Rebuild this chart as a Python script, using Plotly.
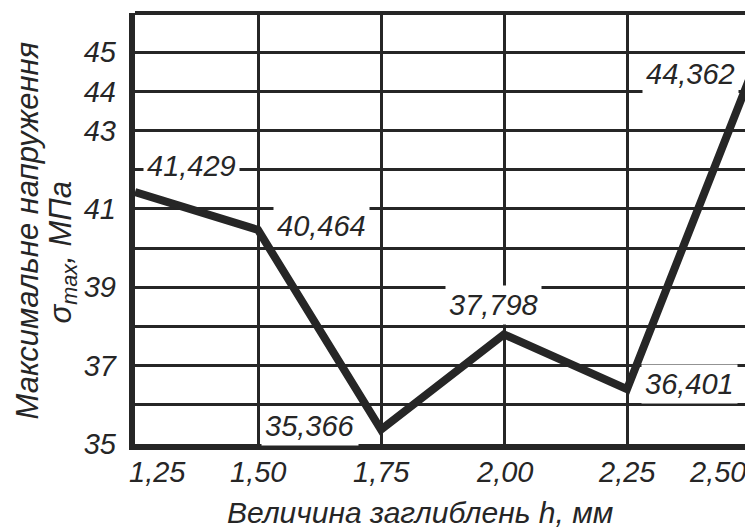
import plotly.graph_objects as go

depth_mm = [1.25, 1.50, 1.75, 2.00, 2.25, 2.50]
stress_mpa = [41.429, 40.464, 35.366, 37.798, 36.401, 44.362]

y_tick_vals = [35, 37, 39, 41, 43, 44, 45]
x_tick_vals = [1.25, 1.50, 1.75, 2.00, 2.25, 2.50]

x_title = "Величина заглиблень h, мм"
y_title_1 = "Максимальне напруження"
y_title_2 = "σ<sub>max</sub>, МПа"

INK = "#262626"
FONT = "Liberation Sans"
FS = 29

# the page body has an 8px margin; the figure is sized to fit the window with it
W, H = 745, 520

# data label placement: (xanchor, yanchor, xshift, yshift)
label_pos = [
    ("left", "middle", 8, 26),
    ("left", "middle", 15, 4),
    ("right", "middle", -22, 4),
    ("center", "middle", -11, 29),
    ("left", "middle", 14, 5),
    ("right", "middle", -11, 3),
]
# x tick label placement: (xanchor, xshift)
xtick_pos = [("left", -8), ("center", 0), ("center", 0), ("center", 0), ("center", 0), ("right", -2)]

fig = go.Figure()
fig.add_trace(go.Scatter(
    x=depth_mm, y=stress_mpa, mode="lines",
    line=dict(color=INK, width=8),
    cliponaxis=False, hoverinfo="skip", showlegend=False,
))

for xv, yv, (xa, ya, dx, dy) in zip(depth_mm, stress_mpa, label_pos):
    fig.add_annotation(
        x=xv, y=yv, xref="x", yref="y",
        text=f"{yv:.3f}".replace(".", ","),
        showarrow=False, xanchor=xa, yanchor=ya, xshift=dx, yshift=dy,
        bgcolor="white", borderpad=3,
        font=dict(family=FONT, size=FS, color=INK, style="italic"),
    )

for xv, (xa, dx) in zip(x_tick_vals, xtick_pos):
    fig.add_annotation(
        x=xv, y=0, xref="x", yref="paper",
        text=f"{xv:.2f}".replace(".", ","),
        showarrow=False, xanchor=xa, yanchor="middle", xshift=dx, yshift=-28,
        font=dict(family=FONT, size=FS, color=INK, style="italic"),
    )

fig.add_annotation(
    x=0.463, y=0, xref="paper", yref="paper", yshift=-68,
    text=x_title, showarrow=False, xanchor="center", yanchor="middle",
    font=dict(family=FONT, size=30, color=INK, style="italic"),
)
fig.add_annotation(
    x=0, y=0.5, xref="paper", yref="paper", xshift=-108, yshift=-2,
    text=y_title_1, showarrow=False, xanchor="center", yanchor="middle",
    textangle=-90,
    font=dict(family=FONT, size=31, color=INK, style="italic"),
)
fig.add_annotation(
    x=0, y=0.5, xref="paper", yref="paper", xshift=-73, yshift=-24,
    text=y_title_2, showarrow=False, xanchor="center", yanchor="middle",
    textangle=-90,
    font=dict(family=FONT, size=31, color=INK, style="italic"),
)

# top and right border
fig.add_shape(type="line", xref="paper", yref="paper", x0=0, x1=1, y0=1, y1=1,
              line=dict(color=INK, width=4))
fig.add_shape(type="line", xref="paper", yref="paper", x0=1, x1=1, y0=0, y1=1,
              line=dict(color=INK, width=4))

fig.update_layout(
    width=W, height=H,
    margin=dict(l=127, r=3, t=5, b=84),
    paper_bgcolor="white", plot_bgcolor="white",
    font=dict(family=FONT, color=INK),
    xaxis=dict(
        range=[1.25, 2.50], tickvals=x_tick_vals,
        showgrid=True, gridcolor=INK, gridwidth=3,
        showline=True, linecolor=INK, linewidth=6,
        ticks="", showticklabels=False, zeroline=False,
    ),
    yaxis=dict(
        range=[35, 46], dtick=1, tick0=35,
        showgrid=True, gridcolor=INK, gridwidth=3,
        showline=True, linecolor=INK, linewidth=6,
        ticks="", zeroline=False, showticklabels=False,
    ),
    yaxis2=dict(
        overlaying="y", side="left", range=[35, 46], tickvals=y_tick_vals,
        showgrid=False, showline=False, zeroline=False, ticks="",
        ticklabelstandoff=18,
        tickfont=dict(family=FONT, size=FS, color=INK, style="italic"),
    ),
)
fig.add_trace(go.Scatter(x=[None], y=[None], yaxis="y2", showlegend=False, hoverinfo="skip"))

fig.write_html("out.html")
